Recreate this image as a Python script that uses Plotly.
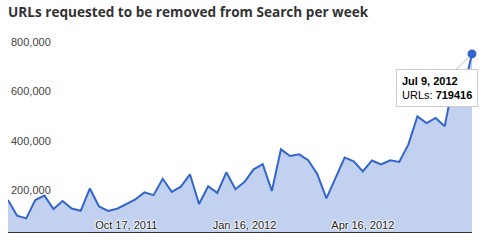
import datetime as dt
import plotly.graph_objects as go

# Weekly dates (Mondays) from Jul 18, 2011 to Jul 9, 2012
start = dt.date(2011, 7, 18)
dates = [start + dt.timedelta(weeks=i) for i in range(52)]

urls = [
    129000, 66000, 55000, 129000, 147000, 93000, 125000, 95000, 86000, 176000,
    103000, 85000, 94000, 113000, 132000, 160000, 149000, 215000, 162000, 183000,
    233000, 113000, 185000, 158000, 241000, 173000, 203000, 253000, 274000, 166000,
    334000, 307000, 314000, 290000, 234000, 136000, 218000, 301000, 286000, 245000,
    289000, 273000, 290000, 283000, 353000, 467000, 440000, 461000, 427000, 613000,
    564000, 719416,
]

y_ticks = [200000, 400000, 600000, 800000]
x_ticks = [dates[13], dates[26], dates[39]]

title_text = "URLs requested to be removed from Search per week"

blue = "#3366CC"
fill = "#C2D1EF"
halo = "white 1px 0px 1px, white -1px 0px 1px, white 0px 1px 1px, white 0px -1px 1px"

fig = go.Figure()
fig.add_trace(go.Scatter(
    x=dates, y=urls, mode="lines", fill="tozeroy",
    line=dict(color=blue, width=2), fillcolor=fill,
    hoverinfo="skip", showlegend=False,
))
fig.add_trace(go.Scatter(
    x=[dates[-1]], y=[urls[-1]], mode="markers",
    marker=dict(color=blue, size=9, line=dict(width=0)),
    hoverinfo="skip", showlegend=False, cliponaxis=False,
))

fig.add_annotation(
    x=dates[-1], y=urls[-1], xref="x", yref="y",
    text="<b>%s</b><br>URLs: <b>%d</b>" % (dates[-1].strftime("%b %-d, %Y"), urls[-1]),
    showarrow=True, arrowhead=0, arrowwidth=1, arrowcolor="#BBBBBB",
    ax=-35, ay=34, standoff=5,
    align="left", font=dict(family="Arial", size=11, color="#000000"),
    bgcolor="white", bordercolor="#CCCCCC", borderwidth=1, borderpad=5,
)

fig.update_layout(
    width=484, height=248,
    margin=dict(l=8, r=12, t=34, b=16),
    paper_bgcolor="white", plot_bgcolor="white",
    title=dict(text="<b>" + title_text + "</b>", x=0, xref="paper", xanchor="left",
               y=0.95, yref="container", yanchor="middle", pad=dict(l=0),
               font=dict(family="Open Sans", size=13.6, color="#333333")),
    xaxis=dict(
        range=[dates[0], dates[-1]], tickvals=x_ticks, tickformat="%b %-d, %Y",
        ticklabelposition="inside", ticks="", showgrid=False, zeroline=False,
        showline=True, linecolor="#333333", linewidth=1,
        tickfont=dict(family="Arial", size=11, color="#222222", shadow=halo),
    ),
    yaxis=dict(
        range=[0, 800000], tickvals=y_ticks, tickformat=",d",
        ticklabelposition="inside bottom", ticks="", showgrid=False, zeroline=False,
        showline=False,
        tickfont=dict(family="Arial", size=11, color="#444444"),
    ),
)

fig.write_html("out.html")
